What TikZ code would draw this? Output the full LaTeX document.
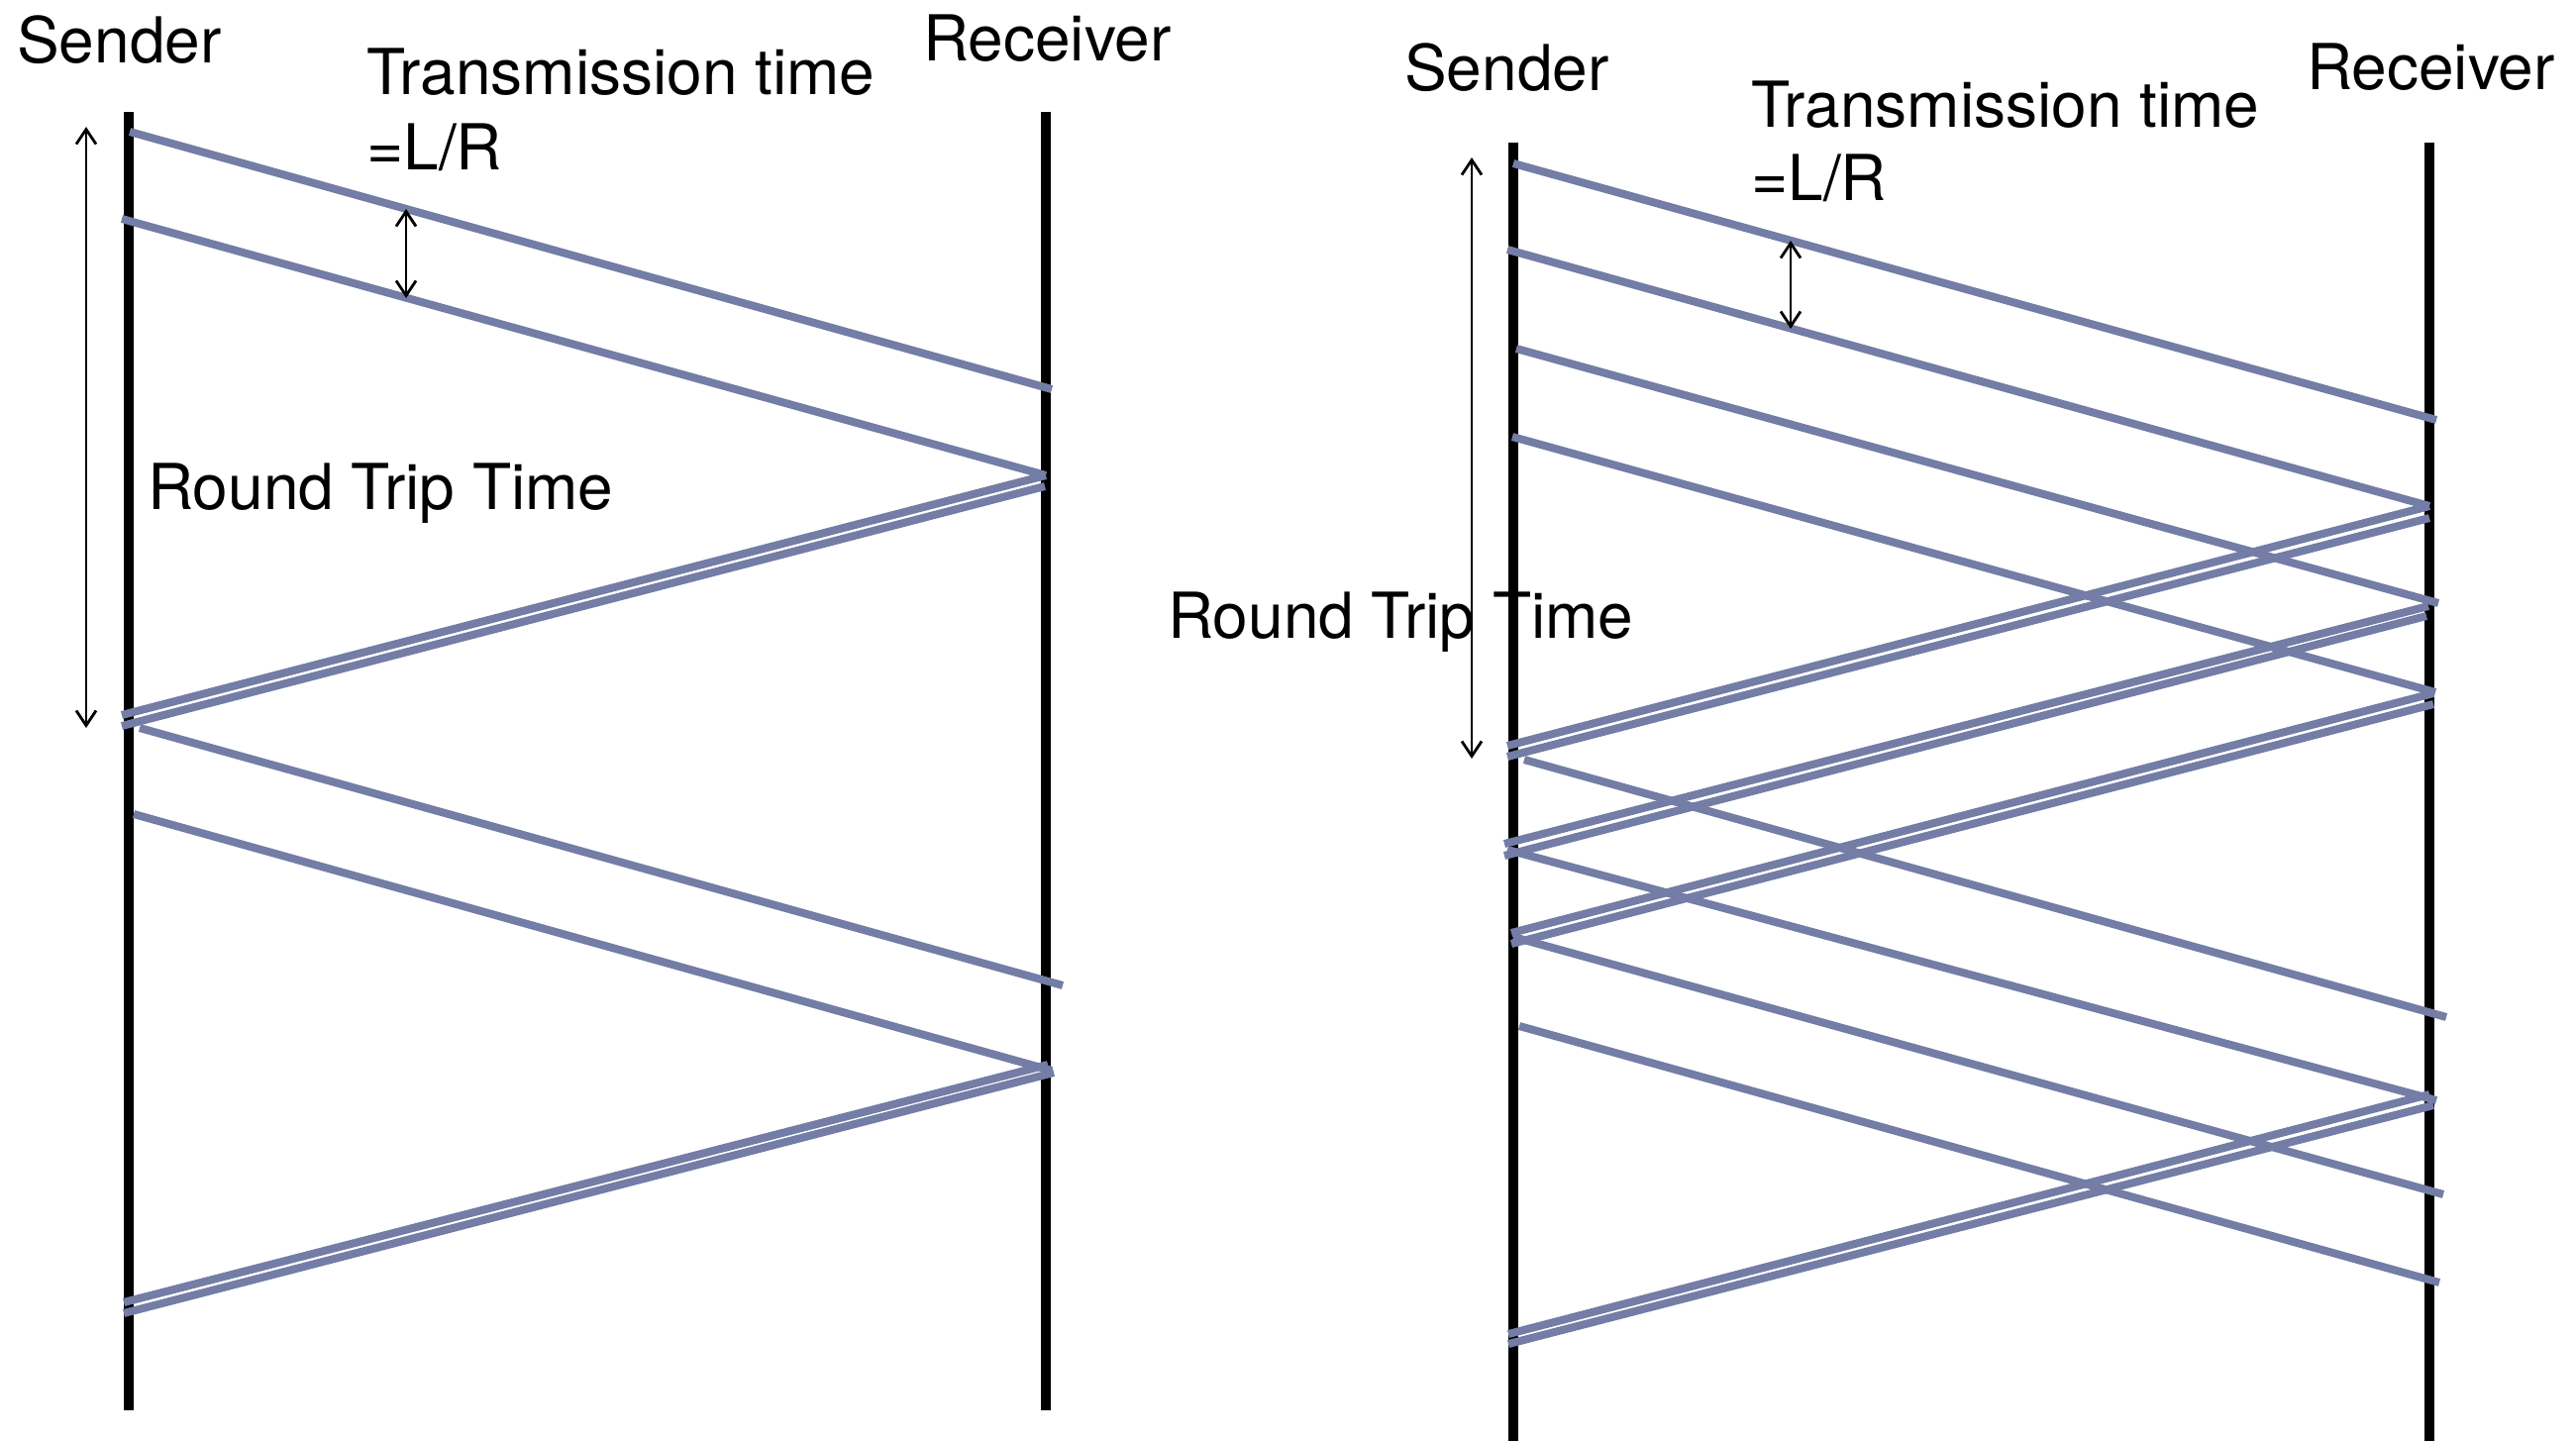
\documentclass[tikz,border=0pt]{standalone}
\usepackage{fontspec}
\setmainfont{TeX Gyre Heros}
\usetikzlibrary{arrows.meta}
\definecolor{msgblue}{RGB}{115,125,165}
\tikzset{
  timeline/.style={line width=10pt, black},
  msg/.style={line width=8pt, msgblue},
  span/.style={line width=2.8pt,
    {Straight Barb[length=15pt,width=20pt]}-{Straight Barb[length=15pt,width=20pt]}},
  lbl/.style={anchor=base west, inner sep=0pt, font=\fontsize{64}{76}\selectfont},
}
\begin{document}
\begin{tikzpicture}[x=1pt,y=-1pt]
\useasboundingbox (0,0) rectangle (2601,1454);

% ---------- stop-and-wait ----------
\coordinate (lSt) at (130,113);  \coordinate (lSb) at (130,1424);
\coordinate (lRt) at (1056,113); \coordinate (lRb) at (1056,1424);
\draw[timeline] (lSt) -- (lSb);
\draw[timeline] (lRt) -- (lRb);

\node[lbl] (lsender) at (17,63) {Sender};
\node[lbl] (lreceiver) at (932,61) {Receiver};
\node[lbl] (ltt) at (370,95) {Transmission time};
\node[lbl] (llr) at (370,171) {=L/R};
\node[lbl] (lrtt) at (149,514) {Round Trip Time};

% data packets
\coordinate (lD1a) at (131,133);  \coordinate (lD1b) at (1062,393);
\coordinate (lD2a) at (123,221);  \coordinate (lD2b) at (1056,480);
\coordinate (lD3a) at (141,735);  \coordinate (lD3b) at (1073,995);
\coordinate (lD4a) at (135,822);  \coordinate (lD4b) at (1062,1081);
\draw[msg] (lD1a) -- (lD1b);
\draw[msg] (lD2a) -- (lD2b);
\draw[msg] (lD3a) -- (lD3b);
\draw[msg] (lD4a) -- (lD4b);

% acknowledgements
\coordinate (lA1a) at (1056,480);  \coordinate (lA1b) at (123,722);
\coordinate (lA1c) at (1055,491);  \coordinate (lA1d) at (123,733);
\coordinate (lA2a) at (1058,1075); \coordinate (lA2b) at (125,1315);
\coordinate (lA2c) at (1064,1083); \coordinate (lA2d) at (125,1326);
\draw[msg] (lA1a) -- (lA1b);
\draw[msg] (lA1c) -- (lA1d);
\draw[msg] (lA2a) -- (lA2b);
\draw[msg] (lA2c) -- (lA2d);

% spans
\coordinate (lrttT) at (87,128);  \coordinate (lrttB) at (87,735);
\coordinate (lttT) at (410,211);  \coordinate (lttB) at (410,301);
\draw[span] (lrttT) -- (lrttB);
\draw[span] (lttT) -- (lttB);

% ---------- pipelined ----------
\coordinate (rSt) at (1528,144);  \coordinate (rSb) at (1528,1460);
\coordinate (rRt) at (2453,144);  \coordinate (rRb) at (2453,1460);
\draw[timeline] (rSt) -- (rSb);
\draw[timeline] (rRt) -- (rRb);

\node[lbl] (rsender) at (1418,91) {Sender};
\node[lbl] (rreceiver) at (2329,90) {Receiver};
\node[lbl] (rtt) at (1768,128) {Transmission time};
\node[lbl] (rlr) at (1768,202) {=L/R};

% data packets
\coordinate (rD1a) at (1528,165);  \coordinate (rD1b) at (2460,424);
\coordinate (rD2a) at (1522,252);  \coordinate (rD2b) at (2453,511);
\coordinate (rD3a) at (1531,352);  \coordinate (rD3b) at (2462,609);
\coordinate (rD4a) at (1527,441);  \coordinate (rD4b) at (2459,699);
\coordinate (rD5a) at (1539,767);  \coordinate (rD5b) at (2470,1027);
\coordinate (rD6a) at (1522,858);  \coordinate (rD6b) at (2460,1111);
\coordinate (rD7a) at (1528,946);  \coordinate (rD7b) at (2467,1206);
\coordinate (rD8a) at (1534,1036); \coordinate (rD8b) at (2463,1295);
\foreach \k in {1,...,8} \draw[msg] (rD\k a) -- (rD\k b);

% acknowledgements
\coordinate (rA1a) at (2453,511);  \coordinate (rA1b) at (1522,753);
\coordinate (rA1c) at (2453,523);  \coordinate (rA1d) at (1522,764);
\coordinate (rA2a) at (2452,612);  \coordinate (rA2b) at (1519,852);
\coordinate (rA2c) at (2450,622);  \coordinate (rA2d) at (1519,864);
\coordinate (rA3a) at (2457,700);  \coordinate (rA3b) at (1526,942);
\coordinate (rA3c) at (2457,711);  \coordinate (rA3d) at (1526,953);
\coordinate (rA4a) at (2453,1105); \coordinate (rA4b) at (1523,1347);
\coordinate (rA4c) at (2457,1116); \coordinate (rA4d) at (1523,1357);
\foreach \k in {1,...,4} {
  \draw[msg] (rA\k a) -- (rA\k b);
  \draw[msg] (rA\k c) -- (rA\k d);
}

% spans
\coordinate (rrttT) at (1486,159); \coordinate (rrttB) at (1486,766);
\coordinate (rttT) at (1808,243);  \coordinate (rttB) at (1808,332);
\draw[span] (rrttT) -- (rrttB);
\draw[span] (rttT) -- (rttB);

\node[lbl] (rrtt) at (1179,644) {Round Trip Time};
\end{tikzpicture}
\end{document}
